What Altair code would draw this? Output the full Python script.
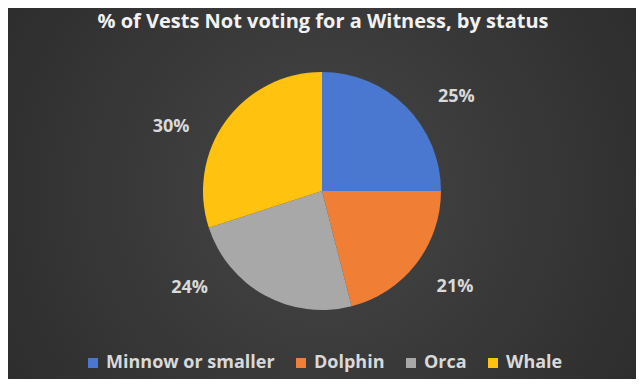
import altair as alt
import pandas as pd

categories = ["Minnow or smaller", "Dolphin", "Orca", "Whale"]
shares = [25, 21, 24, 30]
labels = ["25%", "21%", "24%", "30%"]
colors = ["#4a78d0", "#f07f35", "#a8a8a8", "#ffc20e"]
# angular nudge (degrees) of each percentage label from its slice's middle
label_nudge_deg = [10, -2, 25, -13]
title_text = "% of Vests Not voting for a Witness, by status"

df = pd.DataFrame({"status": categories, "share": shares, "label": labels,
                   "nudge": label_nudge_deg, "order": list(range(len(categories)))})

W, H = 628, 371
CX, CY, R = 314, 183, 119
FONT = "Open Sans"

bg = alt.Chart(pd.DataFrame({"a": [0]})).mark_rect(
    fill={"gradient": "radial", "x1": 0.5, "y1": 0.5, "x2": 0.5, "y2": 0.5,
          "r1": 0, "r2": 0.75,
          "stops": [{"offset": 0, "color": "#464646"}, {"offset": 1, "color": "#262626"}]}
).encode(x=alt.value(0), x2=alt.value(W), y=alt.value(0), y2=alt.value(H))

base = alt.Chart(df)

pie = base.mark_arc(outerRadius=R, stroke=None).encode(
    theta=alt.Theta("share:Q", stack=True),
    order=alt.Order("order:Q"),
    color=alt.Color("status:N", sort=categories,
                    scale=alt.Scale(domain=categories, range=colors),
                    legend=alt.Legend(title=None, orient="none", direction="horizontal",
                                      legendX=76, legendY=346, symbolType="square",
                                      symbolSize=100, symbolStrokeWidth=0,
                                      labelFont=FONT, labelFontSize=18, labelFontWeight="bold",
                                      labelColor="#d9d9d9", labelOffset=4, labelLimit=400,
                                      columnPadding=17, symbolOpacity=1)),
    x=alt.value(CX), y=alt.value(CY),
)

text = base.transform_window(
    cum="sum(share)", sort=[alt.SortField("order")]
).transform_calculate(
    mid="datum.cum - datum.share / 2 + datum.nudge * 100 / 360"
).mark_text(font=FONT, fontSize=18, fontWeight="bold", color="#d9d9d9").encode(
    theta=alt.Theta("mid:Q", stack=False, scale=alt.Scale(domain=[0, 100])),
    radius=alt.value(164),
    text="label:N",
    x=alt.value(CX), y=alt.value(CY),
)

title = alt.Chart(pd.DataFrame({"t": [title_text]})).mark_text(
    font=FONT, fontSize=20, fontWeight="bold", color="#f2f2f2"
).encode(text="t:N", x=alt.value(W / 2 + 1), y=alt.value(14))

chart = alt.layer(bg, pie, text, title).resolve_scale(theta="independent").properties(
    width=W, height=H, padding=0, background="#2c2c2c"
).configure_view(stroke=None)

chart.save("out.html", embed_options={"renderer": "svg", "actions": False})
